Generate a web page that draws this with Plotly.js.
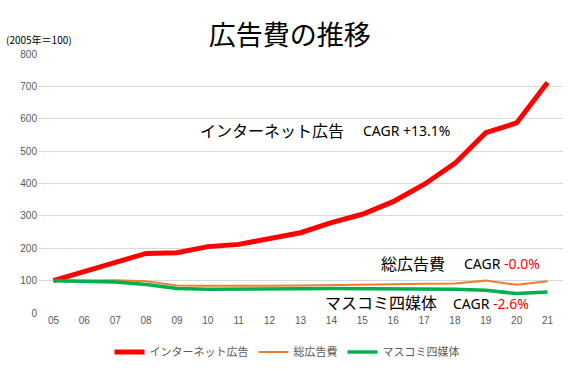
<!DOCTYPE html>
<html>
<head>
<meta charset="utf-8">
<script src="https://cdn.plot.ly/plotly-3.0.1.min.js"></script>
<style>html,body{margin:0;padding:0;background:#fff}#chart{width:574px;height:376px}</style>
</head>
<body>
<div id="chart"></div>
<script>
const years = ["05","06","07","08","09","10","11","12","13","14","15","16","17","18","19","20","21"];
const internet = [100,129,158,184,186,205,212,230,248,279,305,344,397,462,557,587,712];
const total = [100,101,101,98,85,84,83,84,85,87,88,89,90,91,100,87,98];
const mass = [100,98,96,88,76,73,73,74,75,76,75,75,75,73,70,60,65];
const seriesNames = ["インターネット広告","総広告費","マスコミ四媒体"];
const yTicks = [0,100,200,300,400,500,600,700,800];

const jp = '"Noto Sans CJK JP", "Noto Sans", sans-serif';
const lat = '"Noto Sans", sans-serif';
const traces = [
  {x: years, y: internet, name: seriesNames[0], type: 'scatter', mode: 'lines', line: {color: '#FF0000', width: 5}},
  {x: years, y: total, name: seriesNames[1], type: 'scatter', mode: 'lines', line: {color: '#ED7D31', width: 2}},
  {x: years, y: mass, name: seriesNames[2], type: 'scatter', mode: 'lines', line: {color: '#00B050', width: 3.5}}
];
function ann(x, y, text, size, fam) {
  return {xref: 'paper', yref: 'paper', x: x, y: y, xanchor: 'center', yanchor: 'middle', text: text, showarrow: false, font: {size: size, color: '#000', family: fam}};
}
const layout = {
  width: 574, height: 376,
  margin: {l: 38, r: 11, t: 54, b: 63},
  paper_bgcolor: '#fff', plot_bgcolor: '#fff',
  font: {family: jp, color: '#595959', size: 11},
  title: {text: '広告費の推移', font: {family: jp, size: 27, color: '#000'}, x: 0.505, xanchor: 'center', y: 0.905, yanchor: 'middle'},
  xaxis: {type: 'category', range: [-0.5, 16.5], showgrid: false, zeroline: false, showline: false, ticks: '', tickfont: {size: 10, color: '#595959', family: '"Liberation Sans", sans-serif'}},
  yaxis: {range: [0, 800], tickvals: yTicks, showgrid: true, gridcolor: '#D9D9D9', gridwidth: 1, zeroline: false, showline: false, ticks: '', tickfont: {size: 10, color: '#595959', family: '"Liberation Sans", sans-serif'}},
  showlegend: true,
  legend: {orientation: 'h', xref: 'container', yref: 'container', x: 0.5, xanchor: 'center', y: 0.064, yanchor: 'middle', font: {size: 11, color: '#595959', family: jp}, itemwidth: 30, tracegroupgap: 0},
  annotations: [
    {xref: 'paper', yref: 'paper', x: -0.065, y: 1.057, xanchor: 'left', yanchor: 'middle', text: '(2005年＝100)', showarrow: false, font: {size: 10, color: '#000', family: jp}},
    ann(0.446, 0.705, 'インターネット広告', 16, jp),
    ann(0.701, 0.703, 'CAGR +13.1%', 14, lat),
    ann(0.714, 0.193, '総広告費', 16, jp),
    ann(0.884, 0.191, 'CAGR <span style="color:#FF0000">-0.0%</span>', 14, lat),
    ann(0.653, 0.042, 'マスコミ四媒体', 16, jp),
    ann(0.863, 0.036, 'CAGR <span style="color:#FF0000">-2.6%</span>', 14, lat)
  ]
};
Plotly.newPlot('chart', traces, layout, {displayModeBar: false, staticPlot: true});
</script>
</body>
</html>
